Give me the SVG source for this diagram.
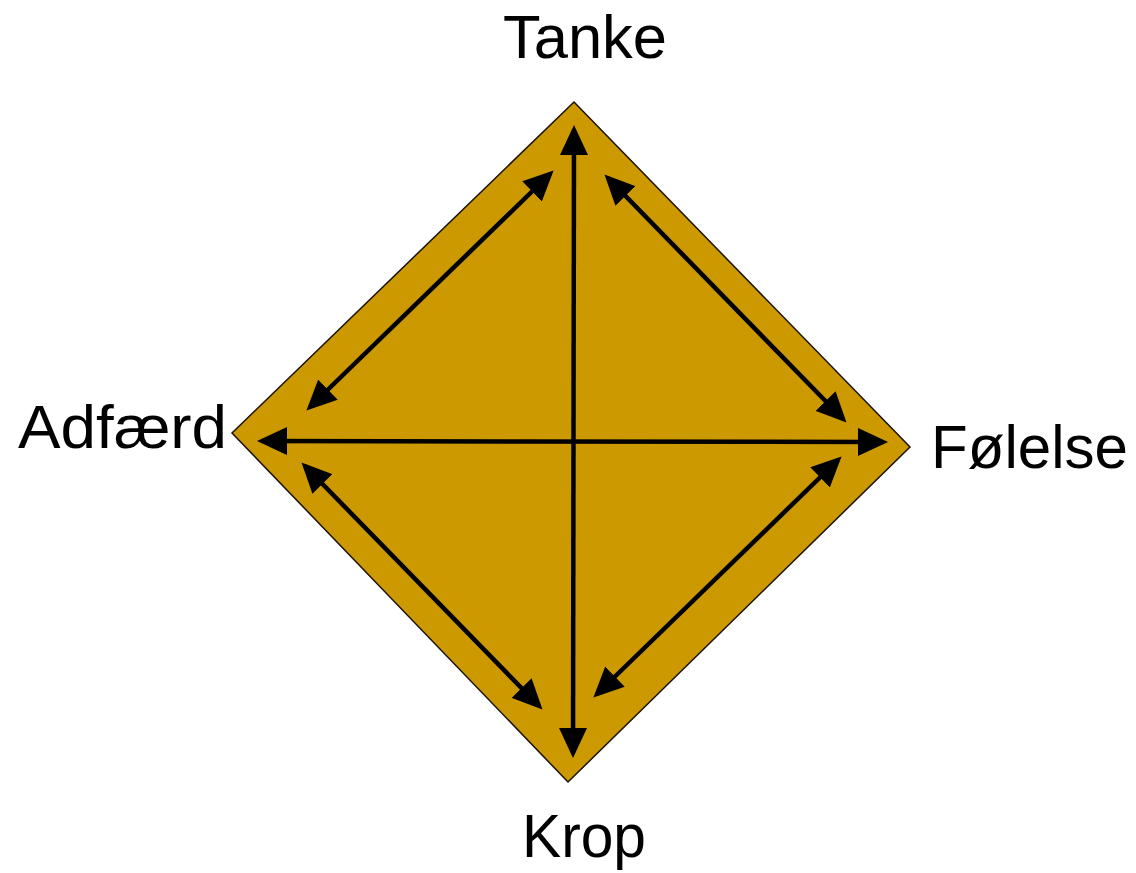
<svg xmlns="http://www.w3.org/2000/svg" width="1136" height="873" viewBox="0 0 1136 873">
  <style>
    .lbl { font-family: "Liberation Sans", Arial, sans-serif; font-size: 62px; fill: #000; }
    .arr { stroke: #000; stroke-width: 4.5; fill: none; marker-start: url(#head); marker-end: url(#head); }
  </style>
  <defs>
    <marker id="head" viewBox="0 0 30 28" refX="25" refY="14" markerWidth="30" markerHeight="28" markerUnits="userSpaceOnUse" orient="auto-start-reverse">
      <path d="M0,0 L30,14 L0,28 z" fill="#000"/>
    </marker>
  </defs>
  <rect width="1136" height="873" fill="#fff"/>
  <g id="diamond">
    <polygon points="574,102 910,447 568,782 232,433" fill="#CC9900" stroke="#1a1200" stroke-width="1.5"/>
  </g>
  <g id="connectors">
    <line class="arr" x1="574" y1="130" x2="573" y2="753"/>
    <line class="arr" x1="262" y1="441" x2="883" y2="442"/>
    <line class="arr" x1="550" y1="174" x2="310" y2="407"/>
    <line class="arr" x1="608" y1="178" x2="843" y2="419"/>
    <line class="arr" x1="305" y1="466" x2="539" y2="706"/>
    <line class="arr" x1="838" y1="460" x2="597" y2="694"/>
  </g>
  <g id="node-tanke"><text class="lbl" x="503" y="58" textLength="164" lengthAdjust="spacingAndGlyphs">Tanke</text></g>
  <g id="node-adfaerd"><text class="lbl" x="18" y="448" textLength="209" lengthAdjust="spacingAndGlyphs">Adfærd</text></g>
  <g id="node-folelse"><text class="lbl" x="931" y="468" textLength="197" lengthAdjust="spacingAndGlyphs">Følelse</text></g>
  <g id="node-krop"><text class="lbl" x="522" y="857" textLength="124" lengthAdjust="spacingAndGlyphs">Krop</text></g>
</svg>
